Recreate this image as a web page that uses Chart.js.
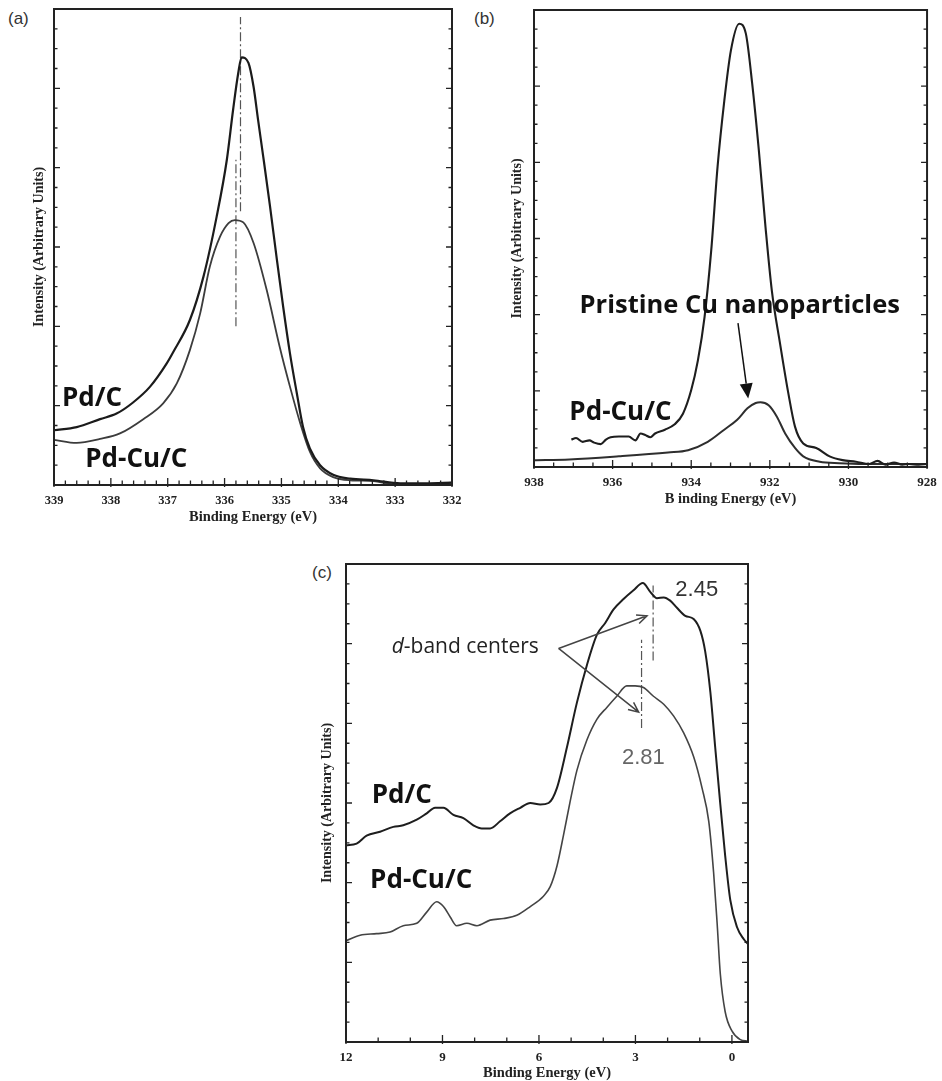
<!DOCTYPE html>
<html>
<head>
<meta charset="utf-8">
<title>XPS spectra: Pd 3d, Cu 2p and valence band</title>
<script src="https://cdn.jsdelivr.net/npm/chart.js@4.4.1/dist/chart.umd.min.js"></script>
<style>
  html, body { margin: 0; padding: 0; background: #fff; width: 942px; height: 1081px; overflow: hidden; }
  canvas { position: absolute; }
  .tag { position: absolute; font-family: "Liberation Sans", Arial, sans-serif; font-size: 17px; color: #333; line-height: 1; }
</style>
</head>
<body>
<div class="tag" style="left:8px; top:10px;">(a)</div>
<div class="tag" style="left:474px; top:10px;">(b)</div>
<div class="tag" style="left:312px; top:564px;">(c)</div>
<canvas id="chartA" width="470" height="535" style="left:0; top:0; width:470px; height:535px;"></canvas>
<canvas id="chartB" width="475" height="520" style="left:470px; top:0; width:475px; height:520px;"></canvas>
<canvas id="chartC" width="450" height="545" style="left:310px; top:550px; width:450px; height:545px;"></canvas>
<script>
// ---------- (a) Pd 3d5/2 region ----------
const aTickLabels = [339, 338, 337, 336, 335, 334, 333, 332];
const aPdCEnergy = [339.0, 338.6, 338.19, 337.9, 337.61, 337.31, 337.02, 336.9, 336.61, 336.37, 336.14, 335.96, 335.85, 335.76, 335.7,
  335.58, 335.49, 335.41, 335.32, 335.2, 335.08, 334.97, 334.85, 334.73, 334.62, 334.5, 334.32, 334.09, 333.79, 333.38, 332.91, 332.45, 332.0];
const aPdCIntensity = [0.69, 0.73, 0.83, 0.9, 1.04, 1.24, 1.53, 1.68, 2.08, 2.63, 3.38, 4.1, 4.73, 5.19, 5.39,
  5.32, 5.02, 4.6, 4.14, 3.51, 2.84, 2.25, 1.66, 1.16, 0.73, 0.46, 0.25, 0.13, 0.08, 0.06, 0.02, 0.02, 0.03];
const aPdCuEnergy = [339.0, 338.6, 338.19, 337.84, 337.43, 337.08, 336.84, 336.61, 336.43, 336.26, 336.08, 335.93, 335.82, 335.67, 335.49,
  335.26, 335.03, 334.85, 334.67, 334.5, 334.32, 334.09, 333.79, 333.38, 333.03, 332.45, 332.0];
const aPdCuIntensity = [0.57, 0.53, 0.58, 0.65, 0.83, 1.03, 1.28, 1.7, 2.16, 2.75, 3.13, 3.3, 3.34, 3.31, 3.05,
  2.46, 1.74, 1.24, 0.78, 0.42, 0.21, 0.1, 0.06, 0.05, 0.01, 0.01, 0.03];
const aPeakPositions = [335.72, 335.80];
const aPeakSpans = [[3.45, 5.9], [2.0, 4.1]];

// ---------- (b) Cu 2p3/2 region ----------
const bTickLabels = [938, 936, 934, 932, 930, 928];
const bPdCuEnergy = [937.05, 936.93, 936.76, 936.59, 936.47, 936.3, 936.17, 936.05, 935.84, 935.59, 935.42, 935.29, 935.17, 935.04, 934.92,
  934.67, 934.42, 934.21, 934.0, 933.83, 933.66, 933.49, 933.33, 933.16, 932.99, 932.78, 932.61, 932.45, 932.28, 932.11, 931.95,
  931.74, 931.53, 931.36, 931.15, 930.82, 930.48, 930.15, 929.81, 929.47, 929.26, 929.05, 928.84, 928.63, 928.46, 928.21, 928.0];
const bPdCuIntensity = [0.36, 0.38, 0.33, 0.35, 0.32, 0.3, 0.36, 0.39, 0.4, 0.4, 0.35, 0.44, 0.42, 0.39, 0.44,
  0.49, 0.56, 0.7, 1.01, 1.4, 1.97, 2.85, 3.94, 4.8, 5.47, 5.82, 5.69, 5.04, 4.16, 3.15, 2.32,
  1.62, 0.97, 0.53, 0.31, 0.25, 0.14, 0.09, 0.07, 0.04, 0.08, 0.03, 0.06, 0.03, 0.04, 0.03, 0.04];
const bCuEnergy = [938.0, 937.1, 935.84, 934.59, 934.08, 933.58, 933.16, 932.83, 932.57, 932.36, 932.24, 932.03, 931.82, 931.61,
  931.36, 931.15, 930.73, 930.23, 929.6, 928.0];
const bCuIntensity = [0.09, 0.1, 0.14, 0.19, 0.22, 0.33, 0.49, 0.62, 0.77, 0.84, 0.85, 0.81, 0.66, 0.44,
  0.25, 0.14, 0.07, 0.05, 0.04, 0.04];

// ---------- (c) valence band ----------
const cTickLabels = [12, 9, 6, 3, 0];
const cPdCEnergy = [12, 11.67, 11.36, 10.94, 10.53, 10.22, 9.8, 9.49, 9.23, 8.97, 8.66, 8.35, 8.04, 7.78, 7.52, 7.21, 6.9, 6.58,
  6.27, 5.96, 5.7, 5.44, 5.13, 4.82, 4.51, 4.2, 3.94, 3.68, 3.37, 3.06, 2.77, 2.54, 2.33, 2.12, 1.92, 1.71, 1.45, 1.19,
  0.98, 0.83, 0.67, 0.52, 0.36, 0.21, 0.05, -0.16, -0.37, -0.5];
const cPdCIntensity = [2.47, 2.49, 2.59, 2.64, 2.7, 2.72, 2.79, 2.87, 2.94, 2.94, 2.85, 2.81, 2.72, 2.68, 2.68, 2.77, 2.87, 2.94,
  3.0, 2.98, 3.0, 3.19, 3.7, 4.26, 4.73, 5.11, 5.26, 5.43, 5.56, 5.67, 5.76, 5.65, 5.57, 5.58, 5.54, 5.45, 5.35, 5.31,
  5.16, 4.9, 4.39, 3.7, 2.98, 2.34, 1.78, 1.44, 1.29, 1.23];
const cPdCuEnergy = [12, 11.56, 11.05, 10.63, 10.22, 9.8, 9.49, 9.18, 8.97, 8.76, 8.56, 8.24, 7.93, 7.52, 7.1, 6.69, 6.27,
  5.86, 5.65, 5.44, 5.24, 5.03, 4.82, 4.51, 4.2, 3.89, 3.58, 3.27, 3.01, 2.75, 2.44, 2.12, 1.81, 1.5, 1.19, 0.93,
  0.72, 0.57, 0.46, 0.36, 0.21, 0.0, -0.26, -0.5];
const cPdCuIntensity = [1.27, 1.34, 1.36, 1.38, 1.46, 1.49, 1.63, 1.76, 1.7, 1.57, 1.46, 1.49, 1.46, 1.53, 1.55, 1.59, 1.7,
  1.83, 1.95, 2.21, 2.59, 3.02, 3.41, 3.79, 4.05, 4.2, 4.34, 4.47, 4.47, 4.45, 4.34, 4.24, 4.09, 3.88, 3.58, 3.19,
  2.77, 2.13, 1.49, 0.85, 0.38, 0.14, 0.03, 0.01];
const cBandCenters = [2.45, 2.81];           // d-band centers, Pd/C and Pd-Cu/C
const cCenterSpans = [[4.79, 5.73], [3.94, 5.05]];

// ---------- shared styling ----------
const SERIF = '"Liberation Serif", "Times New Roman", serif';
const SANS = '"Open Sans", "DejaVu Sans", sans-serif';
const INK = '#222';

const toPoints = (xs, ys) => xs.map((x, i) => ({ x, y: ys[i] }));

function curve(xs, ys, color, width) {
  return {
    data: toPoints(xs, ys), borderColor: color, borderWidth: width, pointRadius: 0,
    cubicInterpolationMode: 'monotone', fill: false
  };
}
function marker(xv, span) {
  return {
    data: [{ x: xv, y: span[0] }, { x: xv, y: span[1] }], borderColor: '#555', borderWidth: 1.2,
    borderDash: [9, 3, 2, 3], pointRadius: 0, fill: false
  };
}

// Frame with inward minor/major ticks, placed through the chart's scales
function frameTicks(cfg) {
  return {
    id: 'frameTicks',
    afterDatasetsDraw(chart) {
      const { ctx, chartArea: a, scales: { x, y } } = chart;
      ctx.save();
      ctx.strokeStyle = INK;
      ctx.lineWidth = 1.3;
      ctx.beginPath();
      const nx = Math.round((cfg.xTo - cfg.xFrom) / cfg.xMinor);
      for (let i = 0; i <= nx; i++) {
        const v = cfg.xFrom + i * cfg.xMinor;
        const px = x.getPixelForValue(v);
        const major = cfg.xMajor.some(m => Math.abs(m - v) < 1e-6);
        const len = major ? 7 : 4.5;
        ctx.moveTo(px, a.bottom + (major ? 2 : 0));
        ctx.lineTo(px, a.bottom - len);
      }
      const ny = Math.round(6 / cfg.yMinor);
      for (let i = 0; i <= ny; i++) {
        const v = i * cfg.yMinor;
        const py = y.getPixelForValue(v);
        const major = Math.abs(v - Math.round(v)) < 1e-6;
        const len = major ? 6 : 3.5;
        ctx.moveTo(a.left, py); ctx.lineTo(a.left + len, py);
        ctx.moveTo(a.right, py); ctx.lineTo(a.right - len, py);
      }
      ctx.stroke();
      ctx.lineWidth = 2;
      ctx.strokeRect(a.left, a.top, a.right - a.left, a.bottom - a.top);
      ctx.restore();
    }
  };
}

// Text labels and arrows, anchored in data coordinates
function notes(cfg) {
  return {
    id: 'notes',
    afterDatasetsDraw(chart) {
      const { ctx, scales: { x, y } } = chart;
      ctx.save();
      (cfg.arrows || []).forEach(ar => {
        const x1 = x.getPixelForValue(ar.from[0]), y1 = y.getPixelForValue(ar.from[1]);
        const x2 = x.getPixelForValue(ar.to[0]), y2 = y.getPixelForValue(ar.to[1]);
        const ang = Math.atan2(y2 - y1, x2 - x1);
        ctx.strokeStyle = ar.color; ctx.fillStyle = ar.color; ctx.lineWidth = ar.width;
        if (ar.filled) {
          const hl = 15, hw = 6.5;
          const bx = x2 - hl * Math.cos(ang), by = y2 - hl * Math.sin(ang);
          ctx.beginPath(); ctx.moveTo(x1, y1); ctx.lineTo(bx, by); ctx.stroke();
          ctx.beginPath();
          ctx.moveTo(x2, y2);
          ctx.lineTo(bx + hw * Math.sin(ang), by - hw * Math.cos(ang));
          ctx.lineTo(bx - hw * Math.sin(ang), by + hw * Math.cos(ang));
          ctx.closePath(); ctx.fill();
        } else {
          const hl = 11, spread = 0.42;
          ctx.beginPath(); ctx.moveTo(x1, y1); ctx.lineTo(x2, y2);
          ctx.moveTo(x2 - hl * Math.cos(ang - spread), y2 - hl * Math.sin(ang - spread));
          ctx.lineTo(x2, y2);
          ctx.lineTo(x2 - hl * Math.cos(ang + spread), y2 - hl * Math.sin(ang + spread));
          ctx.stroke();
        }
      });
      ctx.textBaseline = 'alphabetic';
      ctx.textAlign = 'left';
      (cfg.texts || []).forEach(t => {
        let px = x.getPixelForValue(t.at[0]);
        const py = y.getPixelForValue(t.at[1]);
        t.parts.forEach(p => {
          ctx.font = (p.style || 'normal') + ' ' + (p.weight || 400) + ' ' + p.size + 'px ' + (p.family || SANS);
          ctx.fillStyle = p.color || '#111';
          ctx.fillText(p.text, px, py);
          px += ctx.measureText(p.text).width;
        });
      });
      ctx.restore();
    }
  };
}

function buildChart(id, opt) {
  return new Chart(document.getElementById(id), {
    type: 'line',
    data: { datasets: opt.datasets },
    plugins: [frameTicks(opt.frame), notes(opt.notes)],
    options: {
      responsive: false, animation: false, devicePixelRatio: 1, events: [],
      layout: { padding: opt.padding },
      plugins: { legend: { display: false }, tooltip: { enabled: false } },
      scales: {
        x: {
          type: 'linear', min: opt.xMin, max: opt.xMax, reverse: true,
          afterBuildTicks: s => { s.ticks = opt.tickLabels.map(v => ({ value: v })); },
          afterFit: s => { s.height = opt.xHeight; },
          grid: { display: false, drawTicks: false },
          border: { display: false },
          ticks: {
            padding: opt.tickPad, color: INK, maxRotation: 0, autoSkip: false,
            font: { family: SERIF, weight: 'bold', size: opt.tickSize },
            callback: v => String(v)
          },
          title: {
            display: true, text: opt.xTitle, color: INK,
            font: { family: SERIF, weight: 'bold', size: 14.5 },
            padding: { top: 0, bottom: opt.xTitlePad }
          }
        },
        y: {
          type: 'linear', min: 0, max: 6,
          afterFit: s => { s.width = opt.yWidth; },
          grid: { display: false, drawTicks: false },
          border: { display: false },
          ticks: { display: false },
          title: {
            display: true, text: 'Intensity (Arbitrary Units)', color: INK,
            font: { family: SERIF, weight: 'bold', size: 14 },
            padding: { top: opt.yTitlePad, bottom: 0 }
          }
        }
      }
    }
  });
}

const bold26 = txt => ({ text: txt, size: 26, weight: 700 });

buildChart('chartA', {
  xMin: 332, xMax: 339, tickLabels: aTickLabels, xTitle: 'Binding Energy (eV)',
  padding: { left: 0, top: 9, right: 18, bottom: 0 }, yWidth: 54, xHeight: 50,
  tickPad: 8.5, tickSize: 12.5, xTitlePad: 9.3, yTitlePad: 30.5,
  datasets: [
    curve(aPdCEnergy, aPdCIntensity, '#1b1b1b', 2.2),
    curve(aPdCuEnergy, aPdCuIntensity, '#3c3c3c', 1.8),
    marker(aPeakPositions[0], aPeakSpans[0]),
    marker(aPeakPositions[1], aPeakSpans[1])
  ],
  frame: { xFrom: 332, xTo: 339, xMinor: 0.2, xMajor: aTickLabels, yMinor: 0.25 },
  notes: {
    texts: [
      { at: [338.86, 0.99], parts: [bold26('Pd/C')] },
      { at: [338.45, 0.23], parts: [bold26('Pd-Cu/C')] }
    ]
  }
});

buildChart('chartB', {
  xMin: 928, xMax: 938, tickLabels: bTickLabels, xTitle: 'B inding Energy (eV)',
  padding: { left: 0, top: 10, right: 13, bottom: 0 }, yWidth: 64, xHeight: 53,
  tickPad: 8.2, tickSize: 13, xTitlePad: 12.3, yTitlePad: 38.5,
  datasets: [
    curve(bPdCuEnergy, bPdCuIntensity, '#1e1e1e', 2.1),
    curve(bCuEnergy, bCuIntensity, '#2e2e2e', 2.0)
  ],
  frame: { xFrom: 928, xTo: 938, xMinor: 0.5, xMajor: bTickLabels, yMinor: 0.25 },
  notes: {
    arrows: [{ from: [932.81, 1.89], to: [932.55, 0.9], color: '#111', width: 1.5, filled: true }],
    texts: [
      { at: [936.84, 2.02], parts: [{ text: 'Pristine Cu nanoparticles', size: 25.5, weight: 700 }] },
      { at: [937.1, 0.62], parts: [bold26('Pd-Cu/C')] }
    ]
  }
});

buildChart('chartC', {
  xMin: -0.5, xMax: 12, tickLabels: cTickLabels, xTitle: 'Binding Energy (eV)',
  padding: { left: 0, top: 14, right: 12, bottom: 0 }, yWidth: 36, xHeight: 53,
  tickPad: 8.2, tickSize: 13, xTitlePad: 13.3, yTitlePad: 9.3,
  datasets: [
    curve(cPdCEnergy, cPdCIntensity, '#1e1e1e', 2.0),
    curve(cPdCuEnergy, cPdCuIntensity, '#444', 1.6),
    marker(cBandCenters[0], cCenterSpans[0]),
    marker(cBandCenters[1], cCenterSpans[1])
  ],
  frame: { xFrom: -0, xTo: 12, xMinor: 1, xMajor: cTickLabels, yMinor: 0.25 },
  notes: {
    arrows: [
      { from: [5.39, 4.94], to: [2.64, 5.35], color: '#444', width: 1.5, filled: false },
      { from: [5.39, 4.94], to: [2.9, 4.14], color: '#444', width: 1.5, filled: false }
    ],
    texts: [
      { at: [11.2, 3.0], parts: [bold26('Pd/C')] },
      { at: [11.25, 1.93], parts: [bold26('Pd-Cu/C')] },
      { at: [10.58, 4.88], parts: [
        { text: 'd', size: 21, style: 'italic', color: '#222' },
        { text: '-band centers', size: 21, color: '#222' }
      ] },
      { at: [1.76, 5.6], parts: [{ text: String(cBandCenters[0]), size: 22, family: '"Liberation Sans", Arial, sans-serif', color: '#333' }] },
      { at: [3.42, 3.49], parts: [{ text: String(cBandCenters[1]), size: 22, family: '"Liberation Sans", Arial, sans-serif', color: '#666' }] }
    ]
  }
});
</script>
</body>
</html>
